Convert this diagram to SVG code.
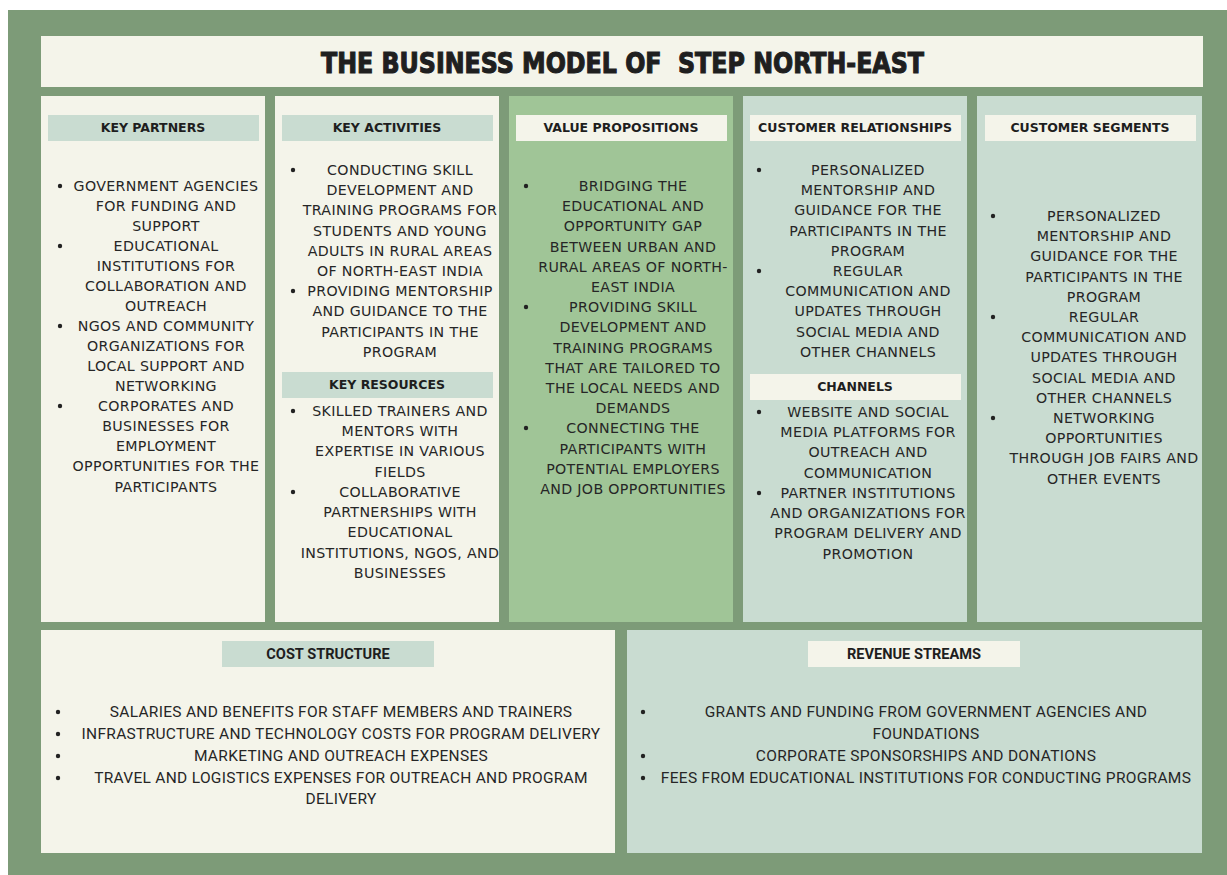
<svg xmlns="http://www.w3.org/2000/svg" width="1227" height="875" viewBox="0 0 1227 875">
<style>
.bg{fill:#7d9b78}
.cream{fill:#f4f4ea}
.teal{fill:#c9dcd1}
.vp{fill:#a0c597}
.title{font-family:"DejaVu Sans Condensed","DejaVu Sans",sans-serif;font-weight:bold;font-size:29px;fill:#1f1f1f;stroke:#1f1f1f;stroke-width:1.1px}
.hd{font-family:"DejaVu Sans",sans-serif;font-weight:bold;font-size:12.5px;fill:#1e1e1e;text-anchor:middle}
.tx{font-family:"DejaVu Sans",sans-serif;font-size:14.2px;letter-spacing:0.35px;fill:#262626;text-anchor:middle}
.hd2{font-family:Roboto,"Liberation Sans",sans-serif;font-weight:bold;font-size:14.6px;fill:#1e1e1e;text-anchor:middle}
.tx2{font-family:Roboto,"Liberation Sans",sans-serif;font-size:15.5px;letter-spacing:0.3px;fill:#262626;text-anchor:middle}
.bu{fill:#222}
</style>
<rect class="bg" x="8" y="10" width="1219" height="865"/>
<g id="title">
<rect class="cream" x="41" y="36" width="1162" height="51"/>
<text class="title" x="321" y="73" textLength="603" lengthAdjust="spacingAndGlyphs" xml:space="preserve">THE BUSINESS MODEL OF  STEP NORTH-EAST</text>
</g>
<g id="key-partners">
<rect class="cream" x="41" y="96" width="224" height="526"/>
<rect class="teal" x="48" y="115" width="211" height="26"/>
<text class="hd" x="153" y="132">KEY PARTNERS</text>
<circle class="bu" cx="60" cy="186" r="2.2"/><circle class="bu" cx="60" cy="246" r="2.2"/><circle class="bu" cx="60" cy="326" r="2.2"/><circle class="bu" cx="60" cy="406" r="2.2"/>
<text class="tx" x="166" y="191">GOVERNMENT AGENCIES</text>
<text class="tx" x="166" y="211">FOR FUNDING AND</text>
<text class="tx" x="166" y="231">SUPPORT</text>
<text class="tx" x="166" y="251">EDUCATIONAL</text>
<text class="tx" x="166" y="271">INSTITUTIONS FOR</text>
<text class="tx" x="166" y="291">COLLABORATION AND</text>
<text class="tx" x="166" y="311">OUTREACH</text>
<text class="tx" x="166" y="331">NGOS AND COMMUNITY</text>
<text class="tx" x="166" y="351">ORGANIZATIONS FOR</text>
<text class="tx" x="166" y="371">LOCAL SUPPORT AND</text>
<text class="tx" x="166" y="391">NETWORKING</text>
<text class="tx" x="166" y="411">CORPORATES AND</text>
<text class="tx" x="166" y="431">BUSINESSES FOR</text>
<text class="tx" x="166" y="451">EMPLOYMENT</text>
<text class="tx" x="166" y="471">OPPORTUNITIES FOR THE</text>
<text class="tx" x="166" y="492">PARTICIPANTS</text>
</g>
<g id="key-activities">
<rect class="cream" x="275" y="96" width="224" height="526"/>
<rect class="teal" x="282" y="115" width="211" height="26"/>
<text class="hd" x="387" y="132">KEY ACTIVITIES</text>
<circle class="bu" cx="293" cy="170" r="2.2"/><circle class="bu" cx="293" cy="291" r="2.2"/>
<text class="tx" x="400" y="175">CONDUCTING SKILL</text>
<text class="tx" x="400" y="195">DEVELOPMENT AND</text>
<text class="tx" x="400" y="215">TRAINING PROGRAMS FOR</text>
<text class="tx" x="400" y="236">STUDENTS AND YOUNG</text>
<text class="tx" x="400" y="256">ADULTS IN RURAL AREAS</text>
<text class="tx" x="400" y="276">OF NORTH-EAST INDIA</text>
<text class="tx" x="400" y="296">PROVIDING MENTORSHIP</text>
<text class="tx" x="400" y="316">AND GUIDANCE TO THE</text>
<text class="tx" x="400" y="337">PARTICIPANTS IN THE</text>
<text class="tx" x="400" y="357">PROGRAM</text>
</g>
<g id="key-resources">
<rect class="teal" x="282" y="372" width="211" height="26"/>
<text class="hd" x="387" y="389">KEY RESOURCES</text>
<circle class="bu" cx="293" cy="411" r="2.2"/><circle class="bu" cx="293" cy="492" r="2.2"/>
<text class="tx" x="400" y="416">SKILLED TRAINERS AND</text>
<text class="tx" x="400" y="436">MENTORS WITH</text>
<text class="tx" x="400" y="456">EXPERTISE IN VARIOUS</text>
<text class="tx" x="400" y="477">FIELDS</text>
<text class="tx" x="400" y="497">COLLABORATIVE</text>
<text class="tx" x="400" y="517">PARTNERSHIPS WITH</text>
<text class="tx" x="400" y="537">EDUCATIONAL</text>
<text class="tx" x="400" y="558">INSTITUTIONS, NGOS, AND</text>
<text class="tx" x="400" y="578">BUSINESSES</text>
</g>
<g id="value-propositions">
<rect class="vp" x="509" y="96" width="224" height="526"/>
<rect class="cream" x="516" y="115" width="211" height="26"/>
<text class="hd" x="621" y="132">VALUE PROPOSITIONS</text>
<circle class="bu" cx="526" cy="186" r="2.2"/><circle class="bu" cx="526" cy="307" r="2.2"/><circle class="bu" cx="526" cy="428" r="2.2"/>
<text class="tx" x="633" y="191">BRIDGING THE</text>
<text class="tx" x="633" y="211">EDUCATIONAL AND</text>
<text class="tx" x="633" y="231">OPPORTUNITY GAP</text>
<text class="tx" x="633" y="252">BETWEEN URBAN AND</text>
<text class="tx" x="633" y="272">RURAL AREAS OF NORTH-</text>
<text class="tx" x="633" y="292">EAST INDIA</text>
<text class="tx" x="633" y="312">PROVIDING SKILL</text>
<text class="tx" x="633" y="332">DEVELOPMENT AND</text>
<text class="tx" x="633" y="353">TRAINING PROGRAMS</text>
<text class="tx" x="633" y="373">THAT ARE TAILORED TO</text>
<text class="tx" x="633" y="393">THE LOCAL NEEDS AND</text>
<text class="tx" x="633" y="413">DEMANDS</text>
<text class="tx" x="633" y="433">CONNECTING THE</text>
<text class="tx" x="633" y="454">PARTICIPANTS WITH</text>
<text class="tx" x="633" y="474">POTENTIAL EMPLOYERS</text>
<text class="tx" x="633" y="494">AND JOB OPPORTUNITIES</text>
</g>
<g id="customer-relationships">
<rect class="teal" x="743" y="96" width="224" height="526"/>
<rect class="cream" x="750" y="115" width="211" height="26"/>
<text class="hd" x="855" y="132">CUSTOMER RELATIONSHIPS</text>
<circle class="bu" cx="759" cy="170" r="2.2"/><circle class="bu" cx="759" cy="271" r="2.2"/>
<text class="tx" x="868" y="175">PERSONALIZED</text>
<text class="tx" x="868" y="195">MENTORSHIP AND</text>
<text class="tx" x="868" y="215">GUIDANCE FOR THE</text>
<text class="tx" x="868" y="236">PARTICIPANTS IN THE</text>
<text class="tx" x="868" y="256">PROGRAM</text>
<text class="tx" x="868" y="276">REGULAR</text>
<text class="tx" x="868" y="296">COMMUNICATION AND</text>
<text class="tx" x="868" y="316">UPDATES THROUGH</text>
<text class="tx" x="868" y="337">SOCIAL MEDIA AND</text>
<text class="tx" x="868" y="357">OTHER CHANNELS</text>
</g>
<g id="channels">
<rect class="cream" x="750" y="374" width="211" height="26"/>
<text class="hd" x="855" y="391">CHANNELS</text>
<circle class="bu" cx="759" cy="412" r="2.2"/><circle class="bu" cx="759" cy="493" r="2.2"/>
<text class="tx" x="868" y="417">WEBSITE AND SOCIAL</text>
<text class="tx" x="868" y="437">MEDIA PLATFORMS FOR</text>
<text class="tx" x="868" y="457">OUTREACH AND</text>
<text class="tx" x="868" y="478">COMMUNICATION</text>
<text class="tx" x="868" y="498">PARTNER INSTITUTIONS</text>
<text class="tx" x="868" y="518">AND ORGANIZATIONS FOR</text>
<text class="tx" x="868" y="538">PROGRAM DELIVERY AND</text>
<text class="tx" x="868" y="559">PROMOTION</text>
</g>
<g id="customer-segments">
<rect class="teal" x="977" y="96" width="225" height="526"/>
<rect class="cream" x="985" y="115" width="211" height="26"/>
<text class="hd" x="1090" y="132">CUSTOMER SEGMENTS</text>
<circle class="bu" cx="993" cy="216" r="2.2"/><circle class="bu" cx="993" cy="317" r="2.2"/><circle class="bu" cx="993" cy="418" r="2.2"/>
<text class="tx" x="1104" y="221">PERSONALIZED</text>
<text class="tx" x="1104" y="241">MENTORSHIP AND</text>
<text class="tx" x="1104" y="261">GUIDANCE FOR THE</text>
<text class="tx" x="1104" y="282">PARTICIPANTS IN THE</text>
<text class="tx" x="1104" y="302">PROGRAM</text>
<text class="tx" x="1104" y="322">REGULAR</text>
<text class="tx" x="1104" y="342">COMMUNICATION AND</text>
<text class="tx" x="1104" y="362">UPDATES THROUGH</text>
<text class="tx" x="1104" y="383">SOCIAL MEDIA AND</text>
<text class="tx" x="1104" y="403">OTHER CHANNELS</text>
<text class="tx" x="1104" y="423">NETWORKING</text>
<text class="tx" x="1104" y="443">OPPORTUNITIES</text>
<text class="tx" x="1104" y="463">THROUGH JOB FAIRS AND</text>
<text class="tx" x="1104" y="484">OTHER EVENTS</text>
</g>
<g id="cost-structure">
<rect class="cream" x="41" y="630" width="574" height="223"/>
<rect class="teal" x="222" y="641" width="212" height="26"/>
<text class="hd2" x="328" y="659">COST STRUCTURE</text>
<circle class="bu" cx="58" cy="712" r="2.2"/><circle class="bu" cx="58" cy="734" r="2.2"/><circle class="bu" cx="58" cy="756" r="2.2"/><circle class="bu" cx="58" cy="778" r="2.2"/>
<text class="tx2" x="341" y="717">SALARIES AND BENEFITS FOR STAFF MEMBERS AND TRAINERS</text>
<text class="tx2" x="341" y="739">INFRASTRUCTURE AND TECHNOLOGY COSTS FOR PROGRAM DELIVERY</text>
<text class="tx2" x="341" y="761">MARKETING AND OUTREACH EXPENSES</text>
<text class="tx2" x="341" y="783">TRAVEL AND LOGISTICS EXPENSES FOR OUTREACH AND PROGRAM</text>
<text class="tx2" x="341" y="804">DELIVERY</text>
</g>
<g id="revenue-streams">
<rect class="teal" x="627" y="630" width="575" height="223"/>
<rect class="cream" x="808" y="641" width="212" height="26"/>
<text class="hd2" x="914" y="659">REVENUE STREAMS</text>
<circle class="bu" cx="643" cy="712" r="2.2"/><circle class="bu" cx="643" cy="756" r="2.2"/><circle class="bu" cx="643" cy="778" r="2.2"/>
<text class="tx2" x="926" y="717">GRANTS AND FUNDING FROM GOVERNMENT AGENCIES AND</text>
<text class="tx2" x="926" y="739">FOUNDATIONS</text>
<text class="tx2" x="926" y="761">CORPORATE SPONSORSHIPS AND DONATIONS</text>
<text class="tx2" x="926" y="783">FEES FROM EDUCATIONAL INSTITUTIONS FOR CONDUCTING PROGRAMS</text>
</g>
<g id="connectors"/>
</svg>
